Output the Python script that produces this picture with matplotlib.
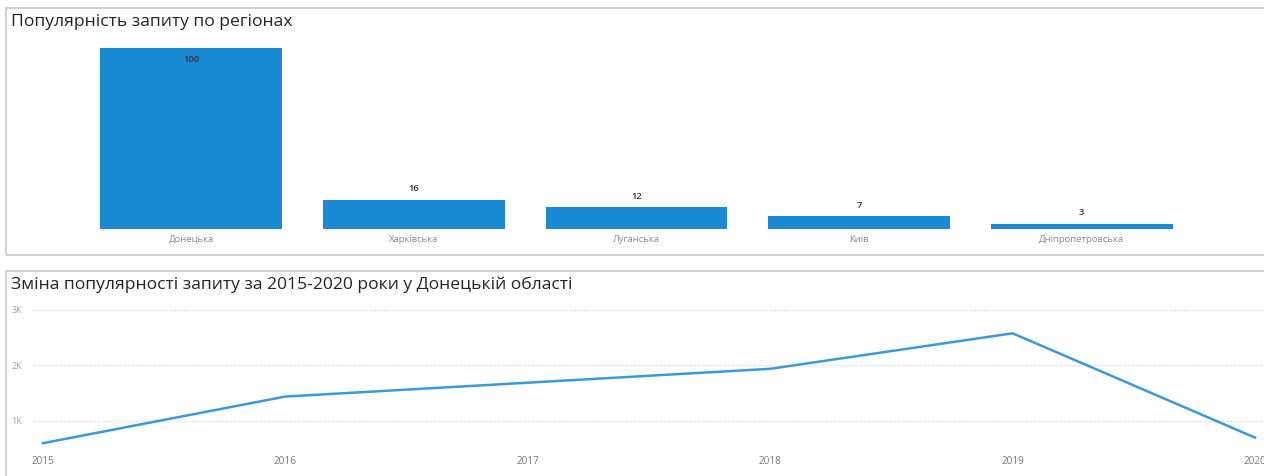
import matplotlib.pyplot as plt
from matplotlib.patches import Rectangle

plt.rcParams["font.family"] = ["Open Sans", "DejaVu Sans"]

regions = ["Донецька", "Харківська", "Луганська", "Київ", "Дніпропетровська"]
region_values = [100, 16, 12, 7, 3]

years = [2015, 2016, 2017, 2018, 2019, 2020]
year_values = [600, 1440, 1690, 1940, 2580, 700]
y_ticks = [1000, 2000, 3000]
y_tick_labels = ["1K", "2K", "3K"]

W, H = 1264, 476
fig = plt.figure(figsize=(W / 100, H / 100), dpi=100)


def px_axes(left, top, right, bottom):
    return fig.add_axes([left / W, 1 - bottom / H, (right - left) / W, (bottom - top) / H])


# panel frames
fig.patches.append(Rectangle((6 / W, 1 - 255 / H), 1260 / W, 247 / H, transform=fig.transFigure,
                             fill=False, edgecolor="#c8c8c8", linewidth=1.2))
fig.patches.append(Rectangle((6 / W, -0.01), 1260 / W, 1 - 271 / H + 0.01, transform=fig.transFigure,
                             fill=False, edgecolor="#c8c8c8", linewidth=1.2))

fig.text(11 / W, 1 - 22 / H, "Популярність запиту по регіонах", fontsize=12.6,
         color="#252423", va="center", ha="left")
fig.text(11 / W, 1 - 285 / H, "Зміна популярності запиту за 2015-2020 роки у Донецькій області",
         fontsize=12.6, color="#252423", va="center", ha="left")

# bar chart
ax1 = px_axes(80, 48, 1193, 229)
bars = ax1.bar(range(len(regions)), region_values, width=0.816, color="#1a8ad4")
ax1.set_xlim(-0.5, len(regions) - 0.5)
ax1.set_ylim(0, 100)
for rect, v in zip(bars, region_values):
    x = rect.get_x() + rect.get_width() / 2
    dy = -8 if v >= 50 else 8
    ax1.annotate(str(v), (x, v), xytext=(0, dy), textcoords="offset points",
                 ha="center", va="center", fontsize=6.8, color="#333333",
                 fontweight="semibold")
ax1.set_xticks(range(len(regions)))
ax1.set_xticklabels(regions, fontsize=6.8, color="#8a8a8a")
ax1.tick_params(axis="x", length=0, pad=4)
ax1.set_yticks([])
for s in ax1.spines.values():
    s.set_visible(False)

# line chart
ax2 = px_axes(33, 305, 1264, 450)
ax2.plot(years, year_values, color="#3a9ad9", linewidth=1.8)
ax2.set_xlim(2014.959, 2020.037)
ax2.set_ylim(477, 3090)
ax2.set_yticks(y_ticks)
ax2.set_yticklabels(y_tick_labels, fontsize=6.5, color="#a0a0a0")
ax2.set_xticks(years)
ax2.set_xticklabels([str(y) for y in years], fontsize=7.2, color="#777777")
ax2.tick_params(axis="y", length=0, pad=8)
ax2.tick_params(axis="x", length=0, pad=4)
ax2.grid(axis="y", color="#dddddd", linestyle=(0, (1, 1)), linewidth=1)
ax2.set_axisbelow(True)
for s in ax2.spines.values():
    s.set_visible(False)

fig.savefig("out.png", dpi=100, facecolor="white")
